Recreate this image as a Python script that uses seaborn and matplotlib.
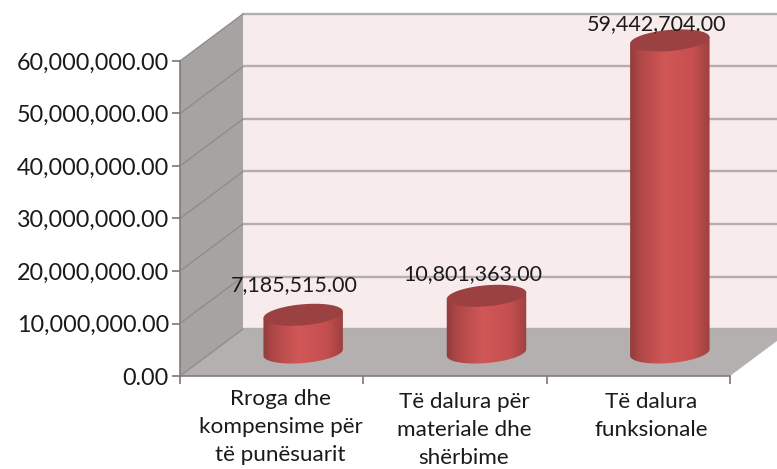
import matplotlib
matplotlib.use("Agg")
import matplotlib.pyplot as plt
import numpy as np
import pandas as pd
import seaborn as sns
from matplotlib.colors import LinearSegmentedColormap
from matplotlib.patches import Polygon, Rectangle
from matplotlib.ticker import StrMethodFormatter
from matplotlib.transforms import Affine2D

categories = [
  "Rroga dhe\nkompensime për\ntë punësuarit",
  "Të dalura për\nmateriale dhe\nshërbime",
  "Të dalura\nfunksionale",
]
values = [7185515.00, 10801363.00, 59442704.00]
y_ticks = [0, 10000000, 20000000, 30000000, 40000000, 50000000, 60000000]

W, H = 777, 469
DEPTH_X, DEPTH_Y = 63, 47
CAP_B, CAP_TILT = 10.5, np.radians(5)
# nudges of the data labels and category labels, pixels
label_nudge = [(-9, -30), (-14, -22), (-13, -16)]
cat_nudge = [(9, 13), (9, 16), (13, 16)]

sns.set_theme(style="white")
plt.rcParams["font.family"] = ["Lato", "DejaVu Sans"]

fig = plt.figure(figsize=(W / 100, H / 100), dpi=100, facecolor="white")
ax = fig.add_axes([180 / W, (H - 376) / H, 550 / W, 315 / H])
ax.patch.set_alpha(0)

df = pd.DataFrame({"category": categories, "value": values})
sns.barplot(data=df, x="category", y="value", ax=ax, width=0.435, color="#c04c4c")
ax.set_xlim(-0.5, 2.5)
ax.set_ylim(0, 60000000)
ax.set_xlabel("")
ax.set_ylabel("")

# top-left pixel coordinates for the fake 3D parts
px = Affine2D().scale(1, -1).translate(0, H)


def to_px(x, y):
  dx, dy = ax.transData.transform((x, y))
  return dx, H - dy


x0, y0 = to_px(-0.5, 0)
x1, y1 = to_px(2.5, 0)
_, y_top = to_px(-0.5, 60000000)


def add_poly(points, color, z=0.5):
  ax.add_patch(Polygon(points, closed=True, facecolor=color, edgecolor="none",
                       transform=px, clip_on=False, zorder=z))


add_poly([(x0 + DEPTH_X, y_top - DEPTH_Y), (W + 30, y_top - DEPTH_Y),
          (W + 30, y0 - DEPTH_Y), (x0 + DEPTH_X, y0 - DEPTH_Y)], "#f7ebeb")
add_poly([(x0, y_top), (x0 + DEPTH_X, y_top - DEPTH_Y),
          (x0 + DEPTH_X, y0 - DEPTH_Y), (x0, y0)], "#a8a3a3")
add_poly([(x0, y0), (x0 + DEPTH_X, y0 - DEPTH_Y), (x1 + DEPTH_X, y0 - DEPTH_Y), (x1, y0)], "#b5b0b0")

for tick in y_ticks:
  _, yp = to_px(-0.5, tick)
  ax.plot([x0 + DEPTH_X, W + 30], [yp - DEPTH_Y, yp - DEPTH_Y], color="#b5aeae", lw=1.7,
          transform=px, clip_on=False, zorder=0.8)
  ax.plot([x0, x0 + DEPTH_X], [yp, yp - DEPTH_Y], color="#918c8c", lw=1.0,
          transform=px, clip_on=False, zorder=0.8)

body_cmap = LinearSegmentedColormap.from_list(
  "cyl", [(0, "#8e3a3a"), (0.14, "#b04747"), (0.45, "#d25757"), (0.78, "#c64f4f"), (1, "#9a3f3f")]
)
t_low = np.linspace(np.pi, 2 * np.pi, 50)
t_all = np.linspace(0, 2 * np.pi, 80)


def ellipse(cx, cy, a, t):
  ex, ey = a * np.cos(t), CAP_B * np.sin(-t)
  return np.column_stack([
    cx + ex * np.cos(CAP_TILT) + ey * np.sin(CAP_TILT),
    cy - ex * np.sin(CAP_TILT) + ey * np.cos(CAP_TILT),
  ])


for bar in [p for p in ax.patches if isinstance(p, Rectangle)]:
  left, right = bar.get_x(), bar.get_x() + bar.get_width()
  xl, yb = to_px(left, 0)
  xr, yt = to_px(right, bar.get_height())
  xl, xr = xl + DEPTH_X / 2, xr + DEPTH_X / 2
  yb, yt = yb - DEPTH_Y / 2, yt - DEPTH_Y / 2
  bar.set_visible(False)
  cx, a = (xl + xr) / 2, (xr - xl) / 2

  outline = np.vstack([
    ellipse(cx, yt, a, np.array([np.pi])),
    ellipse(cx, yb, a, t_low),
    ellipse(cx, yt, a, np.array([0.0])),
  ])
  clip = Polygon(outline, closed=True, transform=px, facecolor="none", edgecolor="none", clip_on=False)
  ax.add_patch(clip)
  img = ax.imshow(np.linspace(0, 1, 100)[None, :], cmap=body_cmap, aspect="auto",
                  extent=[xl - 2, xr + 2, yb + CAP_B + 6, yt - CAP_B - 6], transform=px, zorder=2)
  img.set_clip_box(fig.bbox)
  img.set_clip_path(clip)
  add_poly(ellipse(cx, yt, a, t_all), "#9b4141", z=2.5)

ax.set_xlim(-0.5, 2.5)
ax.set_ylim(0, 60000000)

sns.despine(ax=ax, top=True, right=True)
for side in ["left", "bottom"]:
  ax.spines[side].set_color("#807c7c")
  ax.spines[side].set_linewidth(1.2)
  ax.spines[side].set_zorder(3)
ax.set_yticks(y_ticks)
ax.yaxis.set_major_formatter(StrMethodFormatter("{x:,.2f}"))
ax.set_xticks([-0.5, 0.5, 1.5, 2.5])
ax.set_xticklabels([])
ax.tick_params(axis="both", which="major", length=6, width=1.1, color="#6d6a6a", left=True, bottom=True)
ax.tick_params(axis="y", labelsize=16.8, labelcolor="#1a1a1a", pad=2)

for i, (name, val) in enumerate(zip(categories, values)):
  cx, yp = to_px(i, val)
  ax.text(cx + DEPTH_X / 2 + label_nudge[i][0], yp - DEPTH_Y / 2 + label_nudge[i][1], f"{val:,.2f}",
          transform=px, ha="center", va="center", fontsize=15.5, color="#1a1a1a", zorder=4, clip_on=False)
  ax.text(cx + cat_nudge[i][0], y0 + cat_nudge[i][1], name, transform=px, ha="center", va="top",
          fontsize=16.2, color="#1a1a1a", linespacing=1.5, clip_on=False)

fig.savefig("out.png", dpi=100)
plt.close(fig)
